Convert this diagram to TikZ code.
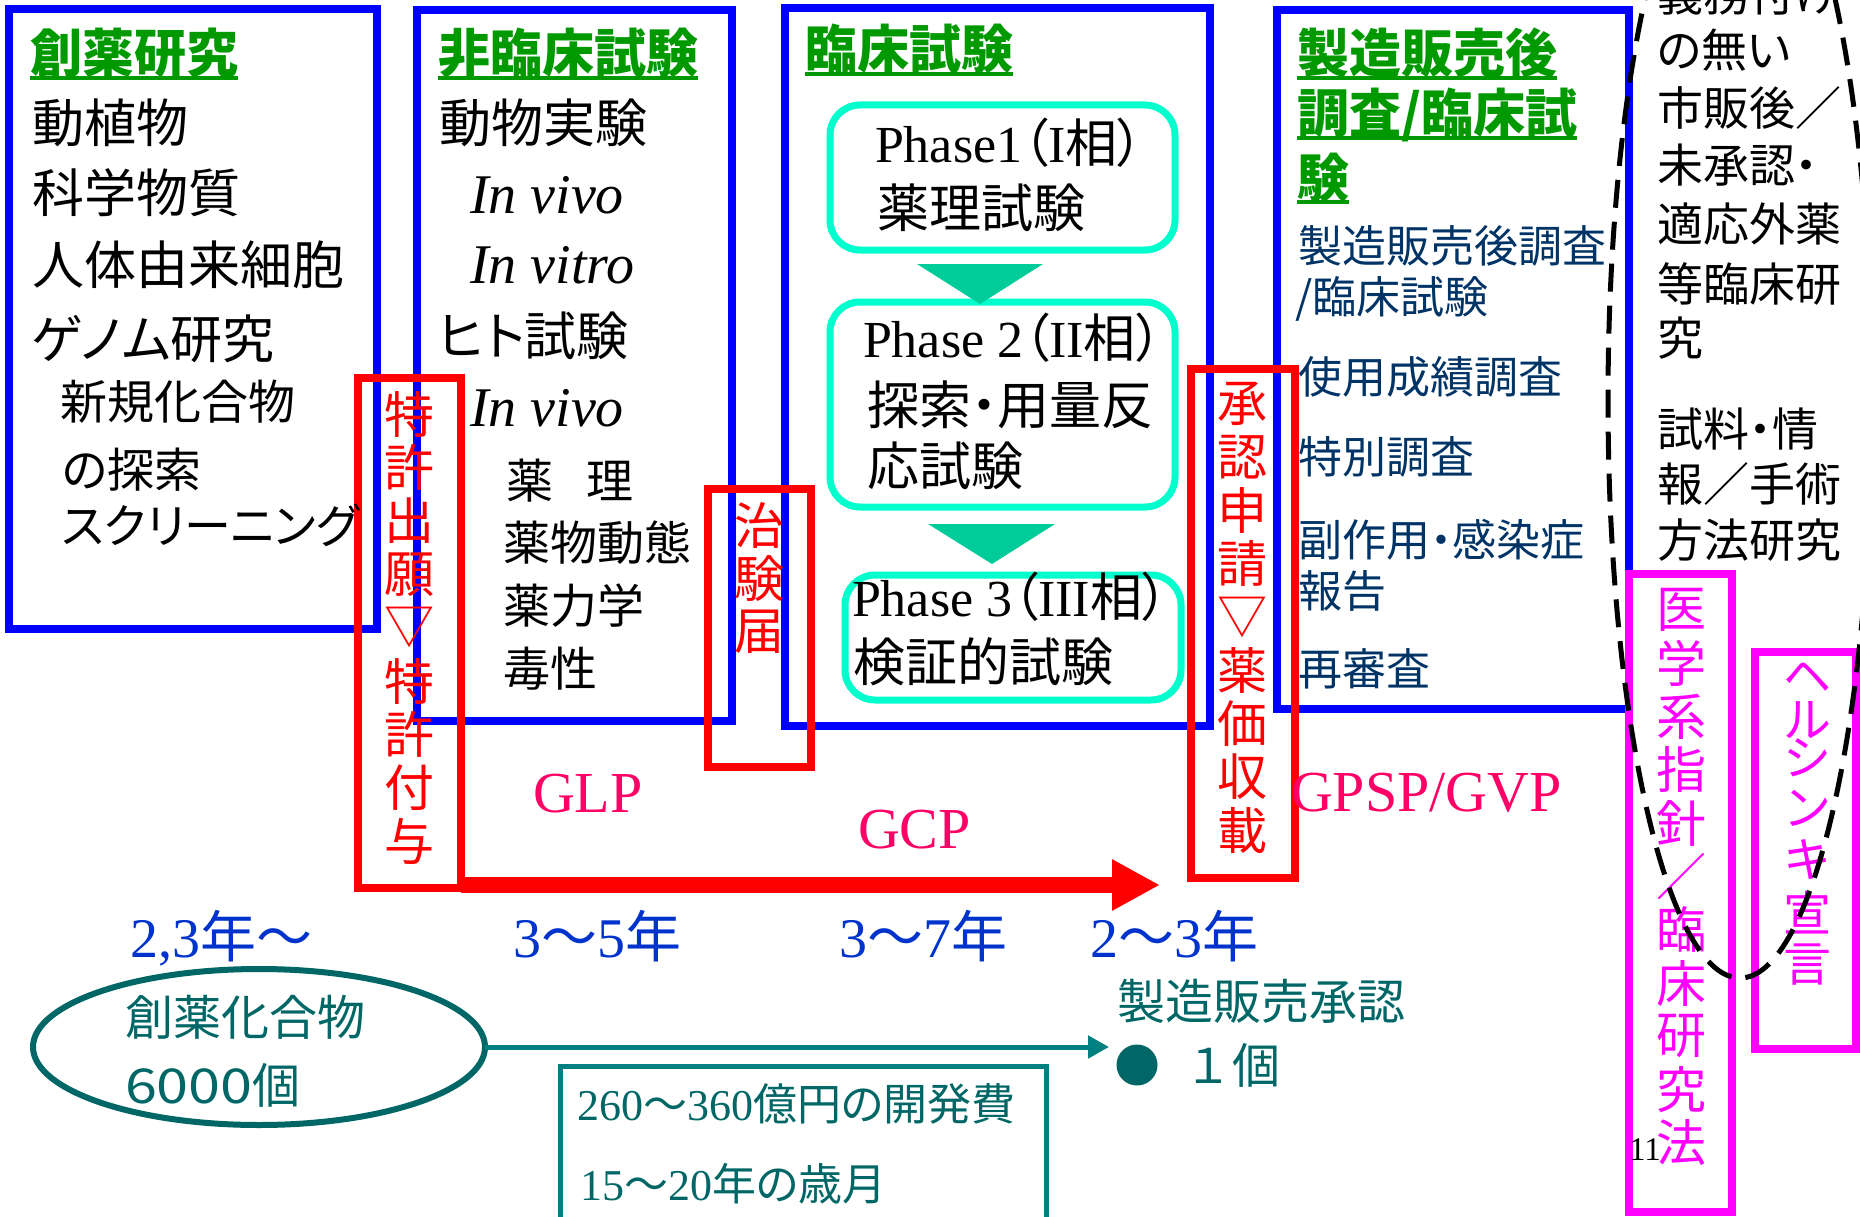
\documentclass[tikz,border=0pt]{standalone}
\usepackage{fontspec}
\usepackage{graphicx}
\usetikzlibrary{arrows.meta,shapes.geometric}
\setmainfont{Liberation Serif}
\newfontfamily\jp[RawFeature=+palt]{Noto Sans CJK JP}
\newfontfamily\jpn{Noto Sans CJK JP}
\newcommand\J[1]{{\jp #1}}
\newcommand\fs[1]{\fontsize{#1}{#1}\selectfont}
\definecolor{bl}{RGB}{0,0,255}
\definecolor{gr}{RGB}{0,153,0}
\definecolor{rd}{RGB}{255,0,0}
\definecolor{pk}{RGB}{255,0,102}
\definecolor{yb}{RGB}{0,51,204}
\definecolor{tdk}{RGB}{0,102,102}
\definecolor{tl}{RGB}{0,128,128}
\definecolor{aq}{RGB}{0,255,204}
\definecolor{tri}{RGB}{0,204,153}
\definecolor{nv}{RGB}{0,51,102}
\definecolor{mg}{RGB}{255,0,255}
\tikzset{
  txt/.style={inner sep=0pt, outer sep=0pt, anchor=base west},
  vch/.style={inner sep=0pt, outer sep=0pt, anchor=center},
  bluebox/.style={draw=bl, line width=8pt},
  redbox/.style={draw=rd, line width=8pt},
  magbox/.style={draw=mg, line width=8pt},
  phasebox/.style={draw=aq, line width=7pt, rounded corners=30pt},
  ul/.style={line width=3.5pt},
  title/.style={txt, font=\jp\bfseries\fs{52}, text=gr},
  body/.style={txt, font=\jp\fs{52}},
  sub/.style={txt, font=\jp\fs{47}},
  navy/.style={txt, font=\jp\fs{44}, text=nv},
  side/.style={txt, font=\jp\fs{46}},
  years/.style={txt, font=\fs{56}, text=yb},
  gxp/.style={txt, font=\fs{58}, text=pk},
  phase/.style={txt, font=\fs{52}},
  tealtext/.style={txt, font=\jp\fs{48}, text=tdk},
}
\begin{document}
\begin{tikzpicture}[x=1pt,y=-1pt]
\useasboundingbox (0,0) rectangle (1860,1217);
\begin{scope}
\clip (0,0) rectangle (1860,1217);
% blue stage boxes
\draw[bluebox] (9,9) rectangle (377,629);
\draw[bluebox] (416.5,10) rectangle (731.5,720.5);
\draw[bluebox] (785,8) rectangle (1210,726);
\draw[bluebox] (1277,10) rectangle (1629,709);
% phase boxes
\draw[phasebox] (830,105) rectangle (1175,250);
\draw[phasebox] (830,302) rectangle (1175,507);
\draw[phasebox] (845,575) rectangle (1181,700);
\fill[tri] (917,264) -- (1043,264) -- (980,304) -- cycle;
\fill[tri] (928,524) -- (1055,524) -- (992,564) -- cycle;
% red boxes
\node[redbox, minimum width=103pt, minimum height=510pt, inner sep=0pt, outer sep=0pt] (patent) at (409.5,633) {};
\draw[redbox] (708,489) rectangle (811,767);
\draw[redbox] (1191,369) rectangle (1295,878);
% magenta boxes
\draw[magbox] (1629,574) rectangle (1732,1212);
\draw[magbox] (1755,652) rectangle (1856,1049);
% big red arrow
\coordinate (redtip) at (1160,885);
\draw[rd, line width=16pt, -{Triangle[length=48pt,width=48pt]}] (patent.east |- redtip) -- (redtip);
% teal parts
\node[ellipse, draw=tdk, line width=6pt, minimum width=452pt, minimum height=156pt, inner sep=0pt, outer sep=0pt] (cmpd) at (259,1047) {};
\coordinate (tealtip) at (1109,1047);
\draw[tl, line width=5pt, -{Triangle[length=21pt,width=22pt]}] (cmpd.east) -- (tealtip);
\node[circle, fill=tdk, minimum size=41pt, inner sep=0pt] (dot) at (1137,1065) {};
\draw[tl, line width=5pt] (560,1230) -- (560,1066) -- (1046,1066) -- (1046,1230);
% box 1 text
\node[title] (t1) at (30,73) {創薬研究};
\draw[gr, ul] ([yshift=-5pt]t1.base west) -- ([yshift=-5pt]t1.base east);
\node[body] (a1) at (32,143) {動植物};
\node[body] (a2) at (32,213) {科学物質};
\node[body] (a3) at (32,284) {人体由来細胞};
\node[body] (a4) at (32,358) {ゲノム研究};
\node[sub] (a5) at (60,419) {新規化合物};
\node[sub] (a6) at (62,487) {の探索};
\node[sub] (a7) at (62,543) {スクリーニング};
% box 2 text
\node[title] (t2) at (438,73) {非臨床試験};
\draw[gr, ul] ([yshift=-5pt]t2.base west) -- ([yshift=-5pt]t2.base east);
\node[body] (b1) at (439,143) {動物実験};
\node[txt, font=\fs{56}\itshape] (b2) at (470,214) {In vivo};
\node[txt, font=\fs{56}\itshape] (b3) at (470,283) {In vitro};
\node[body] (b4) at (438,355) {ヒト試験};
\node[txt, font=\fs{56}\itshape] (b5) at (470,426) {In vivo};
\node[sub] (b6) at (506,498) {薬\hspace*{33pt}理};
\node[sub] (b7) at (503,560) {薬物動態};
\node[sub] (b8) at (503,623) {薬力学};
\node[sub] (b9) at (503,686) {毒性};
% box 3 text
\node[title] (t3) at (805,69) {臨床試験};
\draw[gr, ul] ([yshift=-5pt]t3.base west) -- ([yshift=-5pt]t3.base east);
\node[phase] (p1a) at (875,163) {Phase1\J{（}I\J{相）}};
\node[body] (p1b) at (877,227) {薬理試験};
\node[phase] (p2a) at (863,357) {Phase 2\J{（}II\J{相）}};
\node[body] (p2b) at (867,424) {探索・用量反};
\node[body] (p2c) at (867,485) {応試験};
\node[phase] (p3a) at (852,616) {Phase 3\J{（}III\J{相）}};
\node[body] (p3b) at (853,681) {検証的試験};
% box 4 text
\node[title] (t4a) at (1297,73) {製造販売後};
\draw[gr, ul] ([yshift=-5pt]t4a.base west) -- ([yshift=-5pt]t4a.base east);
\node[title] (t4b) at (1297,133) {調査/臨床試};
\draw[gr, ul] ([yshift=-5pt]t4b.base west) -- ([yshift=-5pt]t4b.base east);
\node[title] (t4c) at (1297,197) {験};
\draw[gr, ul] ([yshift=-5pt]t4c.base west) -- ([yshift=-5pt]t4c.base east);
\node[navy] (e1) at (1298,262) {製造販売後調査};
\node[navy] (e2) at (1295,313) {/臨床試験};
\node[navy] (e3) at (1298,393) {使用成績調査};
\node[navy] (e4) at (1298,473) {特別調査};
\node[navy] (e5) at (1298,556) {副作用・感染症};
\node[navy] (e6) at (1298,607) {報告};
\node[navy] (e7) at (1298,685) {再審査};
% right column
\node[side] (f0) at (1657,12) {義務付け};
\node[side] (f1) at (1657,68) {の無い};
\node[side] (f2) at (1657,126) {市販後／};
\node[side] (f3) at (1657,183) {未承認・};
\node[side] (f4) at (1657,241) {適応外薬};
\node[side] (f5) at (1657,301) {等臨床研};
\node[side] (f6) at (1657,355) {究};
\node[side] (f7) at (1657,446) {試料・情};
\node[side] (f8) at (1657,501) {報／手術};
\node[side] (f9) at (1657,557) {方法研究};
% vertical texts
\foreach \c [count=\i from 0] in {特,許,出,願,▽,特,許,付,与}
  \node[vch, font=\jpn\fs{50}, text=rd] (pa\i) at (409,414+53.4*\i) {\c};
\foreach \c [count=\i from 0] in {治,験,届}
  \node[vch, font=\jpn\fs{50}, text=rd] (ch\i) at (759,525+53.5*\i) {\c};
\foreach \c [count=\i from 0] in {承,認,申,請,▽,薬,価,収,載}
  \node[vch, font=\jpn\fs{50}, text=rd] (ap\i) at (1242,404+53.25*\i) {\c};
\foreach \c [count=\i from 0] in {医,学,系,指,針,／,臨,床,研,究,法}
  \node[vch, font=\jpn\fs{50}, text=mg] (ig\i) at (1681,610+53.3*\i) {\c};
\foreach \c/\yy [count=\i from 0] in {ヘ/678,ル/720,シ/758,ン/808,キ/860,宣/913,言/965}
  \node[vch, font=\jpn\fs{48}, text=mg] (he\i) at (1807,\yy) {\c};
% labels
\node[gxp] (glp) at (533,812) {GLP};
\node[gxp] (gcp) at (858,848) {GCP};
\node[gxp] (gpsp) at (1291,811) {GPSP/GVP};
\node[years] (y1) at (130,957) {2,3\J{年〜}};
\node[years] (y2) at (513,957) {3\J{〜}5\J{年}};
\node[years] (y3) at (839,957) {3\J{〜}7\J{年}};
\node[years] (y4) at (1090,957) {2\J{〜}3\J{年}};
% bottom
\node[tealtext] (g1) at (125,1035) {創薬化合物};
\node[tealtext] (g2) at (125,1103) {\scalebox{1.2}[1]{6000}個};
\node[tealtext] (g3) at (1117,1019) {製造販売承認};
\node[txt, font=\jpn\fs{48}, text=tdk] (g4) at (1184,1083) {１個};
\node[txt, font=\fs{44}, text=tdk] (h1) at (577,1120) {260\J{〜}360\J{億円の開発費}};
\node[txt, font=\fs{44}, text=tdk] (h2) at (580,1200) {15\J{〜}20\J{年の歳月}};
\node[txt, font=\fs{33}] (pg) at (1629,1160) {11};
% dashed outline
\draw[black, line width=5pt, dash pattern=on 28pt off 14pt] (1740,400) ellipse [x radius=132pt, y radius=578pt];
\end{scope}
\end{tikzpicture}
\end{document}
